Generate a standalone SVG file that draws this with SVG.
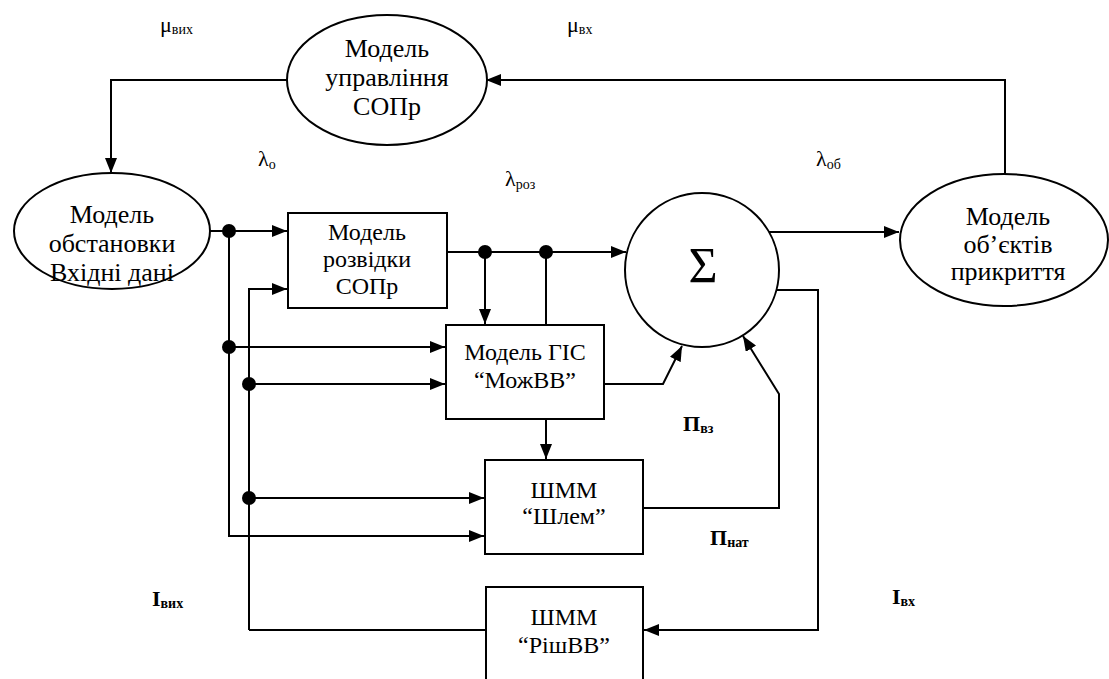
<svg xmlns="http://www.w3.org/2000/svg" width="1109" height="679" viewBox="0 0 1109 679">
<defs>
<marker id="arr" markerUnits="userSpaceOnUse" markerWidth="16" markerHeight="12" refX="15" refY="6" orient="auto">
<path d="M0,0 L15,6 L0,12 z" fill="#000"/>
</marker>
<style>
.shape{fill:#fff;stroke:#000;stroke-width:2}
.ln{fill:none;stroke:#000;stroke-width:2}
.ar{fill:none;stroke:#000;stroke-width:2;marker-end:url(#arr)}
.dot{fill:#000}
</style>
</defs>
<rect width="1109" height="679" fill="#fff"/>

<g id="connectors">
<path class="ar" d="M287,80 H111 V173"/>
<path class="ar" d="M1005,174 V80 H486"/>
<path class="ar" d="M210,231 H287"/>
<path class="ar" d="M249,630 V289 H287"/>
<path class="ar" d="M229,231 V536 H484"/>
<path class="ar" d="M229,347 H445"/>
<path class="ar" d="M249,384 H445"/>
<path class="ar" d="M249,498 H484"/>
<path class="ln" d="M249,630 H486"/>
<path class="ar" d="M447,252 H626"/>
<path class="ar" d="M485,252 V324"/>
<path class="ln" d="M546,252 V325"/>
<path class="ar" d="M546,419 V459"/>
<path class="ar" d="M604,384 H663 L682,346"/>
<path class="ar" d="M643,508 H779 V394 L743,336"/>
<path class="ar" d="M776,290 H818 V630 H644"/>
<path class="ar" d="M769,232 H899"/>
<circle class="dot" cx="229" cy="231" r="7"/>
<circle class="dot" cx="229" cy="347" r="7"/>
<circle class="dot" cx="249" cy="384" r="7"/>
<circle class="dot" cx="249" cy="498" r="7"/>
<circle class="dot" cx="485" cy="252" r="7"/>
<circle class="dot" cx="546" cy="252" r="7"/>
</g>

<g font-family="Times New Roman, Liberation Serif, Tinos, DejaVu Serif, serif" fill="#000">
<g id="node-upravlinnia" text-anchor="middle" font-size="26">
<ellipse class="shape" cx="387" cy="80" rx="100" ry="65"/>
<text x="387" y="57">Модель</text>
<text x="387" y="86">управління</text>
<text x="387" y="115">СОПр</text>
</g>

<g id="node-obstanovka" text-anchor="middle" font-size="26">
<ellipse class="shape" cx="112" cy="231" rx="98" ry="58"/>
<text x="112" y="223">Модель</text>
<text x="112" y="252">обстановки</text>
<text x="112" y="281">Вхідні дані</text>
</g>

<g id="node-rozvidka" text-anchor="middle" font-size="24">
<rect class="shape" x="288" y="213" width="159" height="95"/>
<text x="367" y="240">Модель</text>
<text x="367" y="267">розвідки</text>
<text x="367" y="294">СОПр</text>
</g>

<g id="node-gis" text-anchor="middle" font-size="24">
<rect class="shape" x="446" y="325" width="158" height="94"/>
<text x="525" y="360">Модель ГІС</text>
<text x="525" y="388">“МожВВ”</text>
</g>

<g id="node-shlem" text-anchor="middle" font-size="24">
<rect class="shape" x="485" y="460" width="158" height="94"/>
<text x="564" y="498">ШММ</text>
<text x="564" y="524">“Шлем”</text>
</g>

<g id="node-rishvv" text-anchor="middle" font-size="24">
<rect class="shape" x="486" y="587" width="157" height="110"/>
<text x="564" y="625">ШММ</text>
<text x="564" y="653">“РішВВ”</text>
</g>

<g id="node-sum" text-anchor="middle">
<circle class="shape" cx="702" cy="270" r="77"/>
<text x="703" y="282" font-size="50">Σ</text>
</g>

<g id="node-obiekty" text-anchor="middle" font-size="26">
<ellipse class="shape" cx="1004" cy="240" rx="104" ry="66"/>
<text x="1008" y="225">Модель</text>
<text x="1008" y="253">об’єктів</text>
<text x="1008" y="280">прикриття</text>
</g>

<g id="labels" font-size="22">
<text x="160" y="32">μ<tspan font-size="14" dy="2">вих</tspan></text>
<text x="567" y="32">μ<tspan font-size="14" dy="2">вх</tspan></text>
<text x="258" y="166">λ<tspan font-size="14" dy="3">о</tspan></text>
<text x="505" y="186">λ<tspan font-size="14" dy="3">роз</tspan></text>
<text x="816" y="166">λ<tspan font-size="14" dy="3">об</tspan></text>
<g font-weight="bold">
<text x="683" y="431">П<tspan font-size="14" dy="2">вз</tspan></text>
<text x="710" y="545">П<tspan font-size="14" dy="2">нат</tspan></text>
<text x="892" y="604">I<tspan font-size="14" dy="2">вх</tspan></text>
<text x="152" y="606">I<tspan font-size="14" dy="2">вих</tspan></text>
</g>
</g>
</g>
</svg>
